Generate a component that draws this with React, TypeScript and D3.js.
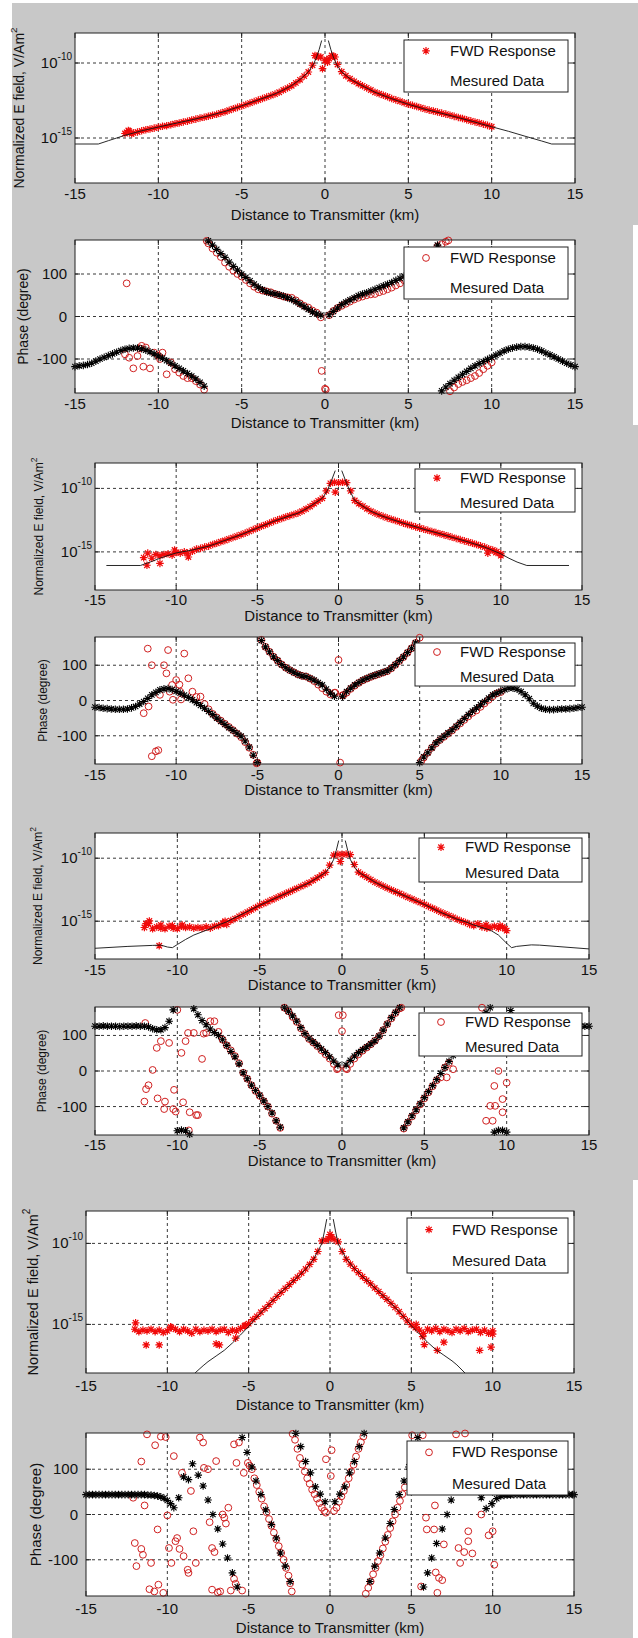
import * as d3 from "d3";

type Pt = [number, number];
type Box = { x0: number; x1: number; y0: number; y1: number };

const FONT = "'Liberation Sans', Arial, Helvetica, sans-serif";

// measurement stations (km)
const STATIONS = [
  -12, -11.75, -11.5, -11.25,
  -11, -10.75, -10.5, -10.25,
  -10, -9.75, -9.5, -9.25,
  -9, -8.75, -8.5, -8.25,
  -8, -7.75, -7.5, -7.25,
  -7, -6.75, -6.5, -6.25,
  -6, -5.75, -5.5, -5.25,
  -5, -4.75, -4.5, -4.25,
  -4, -3.75, -3.5, -3.25,
  -3, -2.75, -2.5, -2.25,
  -2, -1.75, -1.5, -1.25,
  -1, -0.75, -0.5, -0.25,
  0, 0.25, 0.5, 0.75,
  1, 1.25, 1.5, 1.75,
  2, 2.25, 2.5, 2.75,
  3, 3.25, 3.5, 3.75,
  4, 4.25, 4.5, 4.75,
  5, 5.25, 5.5, 5.75,
  6, 6.25, 6.5, 6.75,
  7, 7.25, 7.5, 7.75,
  8, 8.25, 8.5, 8.75,
  9, 9.25, 9.5, 9.75,
  10,
];

// model positions (km)
const MODEL_X = [
  -15, -14.75, -14.5, -14.25,
  -14, -13.75, -13.5, -13.25,
  -13, -12.75, -12.5, -12.25,
  -12, -11.75, -11.5, -11.25,
  -11, -10.75, -10.5, -10.25,
  -10, -9.75, -9.5, -9.25,
  -9, -8.75, -8.5, -8.25,
  -8, -7.75, -7.5, -7.25,
  -7, -6.75, -6.5, -6.25,
  -6, -5.75, -5.5, -5.25,
  -5, -4.75, -4.5, -4.25,
  -4, -3.75, -3.5, -3.25,
  -3, -2.75, -2.5, -2.25,
  -2, -1.75, -1.5, -1.25,
  -1, -0.75, -0.5, -0.25,
  0, 0.25, 0.5, 0.75,
  1, 1.25, 1.5, 1.75,
  2, 2.25, 2.5, 2.75,
  3, 3.25, 3.5, 3.75,
  4, 4.25, 4.5, 4.75,
  5, 5.25, 5.5, 5.75,
  6, 6.25, 6.5, 6.75,
  7, 7.25, 7.5, 7.75,
  8, 8.25, 8.5, 8.75,
  9, 9.25, 9.5, 9.75,
  10, 10.25, 10.5, 10.75,
  11, 11.25, 11.5, 11.75,
  12, 12.25, 12.5, 12.75,
  13, 13.25, 13.5, 13.75,
  14, 14.25, 14.5, 14.75,
  15,
];

const X_TICKS = [-15, -10, -5, 0, 5, 10, 15];
const E_TICKS = [-15, -10]; // powers of ten
const PHASE_TICKS = [-100, 0, 100];

// ---------- figure 1 ----------
// log10 of normalized E field, red asterisks
const e1Fwd = [
  -14.7, -14.55, -14.66, -14.6,
  -14.52, -14.45, -14.4, -14.34,
  -14.28, -14.22, -14.18, -14.12,
  -14.05, -14.0, -13.93, -13.88,
  -13.8, -13.74, -13.67, -13.62,
  -13.55, -13.48, -13.42, -13.33,
  -13.25, -13.15, -13.05, -12.96,
  -12.87, -12.77, -12.67, -12.57,
  -12.47, -12.37, -12.27, -12.17,
  -12.07, -11.95, -11.8, -11.67,
  -11.52, -11.33, -11.12, -10.87,
  -10.6, -10.15, -9.55, -9.6,
  -9.85, -9.7, -9.55, -10.1,
  -10.58, -10.85, -11.05, -11.22,
  -11.38, -11.52, -11.66, -11.8,
  -11.95, -12.05, -12.15, -12.25,
  -12.37, -12.46, -12.55, -12.65,
  -12.75, -12.82, -12.9, -12.98,
  -13.07, -13.14, -13.2, -13.27,
  -13.34, -13.41, -13.48, -13.56,
  -13.63, -13.7, -13.78, -13.86,
  -13.93, -14.0, -14.08, -14.16,
  -14.25,
];
const e1Extra: Pt[] = [
  [-11.8, -14.5], [-11.6, -14.72], [-11.9, -14.62], [-0.6, -9.5], [-0.4, -9.6],
  [-0.15, -10.38], [0.1, -9.8], [0.15, -9.95], [0.4, -9.5], [0.6, -9.6],
];
const e1Meas: Pt[] = [
  [-15, -15.4], [-13.6, -15.4], [-13, -15.18], [-12.5, -15.0], [-12, -14.82], [-11, -14.52],
  [-10, -14.27], [-9, -14.03], [-8, -13.79], [-7, -13.53], [-6, -13.23], [-5, -12.86],
  [-4, -12.46], [-3, -12.06], [-2.5, -11.8], [-2, -11.5], [-1.5, -11.1], [-1, -10.6],
  [-0.7, -10.1], [-0.5, -9.6], [-0.35, -9.1], [-0.2, -8.5], [0, NaN],
  [0.2, -8.5], [0.35, -9.1], [0.5, -9.6], [0.7, -10.1], [1, -10.6], [1.5, -11.05],
  [2, -11.38], [3, -11.95], [4, -12.38], [5, -12.75], [6, -13.08], [7, -13.35],
  [8, -13.64], [9, -13.94], [10, -14.25], [11, -14.55], [12, -14.88], [13, -15.2],
  [13.6, -15.4], [15, -15.4],
];
// phase (degree), red circles
const p1Fwd = [
  -89, -97, -122, -93,
  -69, -73, -122, -85,
  -92, -85, -136, -108,
  -124, -132, -140, -145,
  -145, -152, -160, -172,
  172, 160, 150, 140,
  127, 117, 108, 100,
  94, 86, 78, 70,
  64, 61, 59, 57,
  53, 50, 47, 45,
  44, 38, 31, 25,
  21, 14, 9, -2,
  -170, 3, 13, 20,
  25, 30, 35, 40,
  44, 47, 50, 52,
  53, 57, 60, 64,
  68, 73, 78, 85,
  88, 96, 104, 114,
  125, 138, 152, 165,
  170, 176, -176, -167,
  -159, -154, -150, -145,
  -140, -133, -124, -116,
  -108,
];
const p1Extra: Pt[] = [
  [-11.9, 78], [-11.1, -75], [-10.9, -118], [-9.9, -100], [-0.2, -128], [0.05, -172],
  [-7.1, 178], [7.4, 179],
];
// phase (degree), black asterisks
const p1Meas = [
  -118, -116, -115, -113,
  -110, -105, -100, -96,
  -92, -88, -84, -80,
  -77, -75, -74, -74,
  -76, -79, -83, -88,
  -93, -98, -104, -110,
  -116, -122, -128, -134,
  -140, -147, -155, -164,
  178, 168, 158, 148,
  139, 128, 118, 109,
  100, 92, 84, 76,
  69, 63, 58, 55,
  53, 51, 48, 44,
  40, 35, 29, 23,
  17, 11, 6, 3,
  NaN, 4, 12, 20,
  28, 34, 39, 44,
  49, 53, 56, 60,
  64, 68, 72, 76,
  80, 85, 90, 95,
  100, 106, 112, 119,
  127, 137, 150, 168,
  -175, -166, -158, -150,
  -143, -136, -129, -122,
  -116, -111, -106, -101,
  -96, -91, -86, -81,
  -77, -74, -72, -71,
  -71, -72, -74, -77,
  -81, -86, -90, -95,
  -100, -105, -110, -114,
  -118,
];

// ---------- figure 2 ----------
const e2Fwd = [
  -15.45, -15.1, -15.5, -15.2,
  -15.3, -15.2, -15.15, -15.25,
  -15.05, -15.1, -15.0, -15.4,
  -14.95, -14.78, -14.72, -14.62,
  -14.55, -14.42, -14.32, -14.2,
  -14.1, -13.98, -13.87, -13.76,
  -13.64, -13.52, -13.38, -13.25,
  -13.12, -12.98, -12.86, -12.73,
  -12.6, -12.48, -12.37, -12.25,
  -12.15, -12.05, -11.95, -11.8,
  -11.62, -11.43, -11.2, -10.98,
  -10.78, -10.2, -9.6, -9.52,
  -9.55, -9.52, -9.55, -10.2,
  -10.95, -11.2, -11.4, -11.6,
  -11.8, -11.95, -12.08, -12.2,
  -12.32, -12.43, -12.53, -12.63,
  -12.74, -12.84, -12.93, -13.03,
  -13.12, -13.21, -13.3, -13.39,
  -13.48, -13.57, -13.66, -13.75,
  -13.85, -13.94, -14.03, -14.13,
  -14.22, -14.32, -14.42, -14.52,
  -14.62, -14.75, -14.85, -14.98,
  -15.15,
];
const e2Extra: Pt[] = [
  [-11.8, -16.05], [-11.0, -15.9], [-10.1, -14.85], [-9.3, -15.1], [-0.2, -10.3],
  [9.2, -15.1], [9.7, -15.05], [10, -15.3],
];
const e2Meas: Pt[] = [
  [-14.3, -16.07], [-12.2, -16.07], [-11.5, -15.75], [-11, -15.5], [-10.5, -15.28], [-10, -15.08],
  [-9, -14.85], [-8, -14.55], [-7, -14.1], [-6, -13.64], [-5, -13.12], [-4, -12.6],
  [-3, -12.15], [-2.5, -11.95], [-2, -11.62], [-1.5, -11.2], [-1, -10.78], [-0.7, -10.2],
  [-0.5, -9.6], [-0.35, -9.1], [-0.2, -8.6], [0, NaN],
  [0.2, -8.6], [0.35, -9.1], [0.5, -9.6], [0.7, -10.2], [1, -10.95], [1.5, -11.4],
  [2, -11.8], [2.5, -12.08], [3, -12.32], [4, -12.74], [5, -13.12], [6, -13.48],
  [7, -13.85], [8, -14.22], [9, -14.62], [10, -15.15], [10.5, -15.5], [11, -15.8],
  [11.6, -16.07], [14.2, -16.07],
];
const p2Fwd = [
  -36, 147, 100, -144,
  16, 100, 143, 44,
  58, 25, 133, 63,
  25, 10, 11, -10,
  -25, -38, -48, -57,
  -66, -75, -84, -94,
  -104, -118, -134, -154,
  -176, 172, 152, 138,
  124, 113, 102, 93,
  86, 80, 74, 70,
  68, 62, 55, 45,
  35, 25, 17, 22,
  115, 15, 22, 33,
  42, 50, 57, 62,
  67, 71, 75, 79,
  83, 91, 101, 112,
  123, 135, 148, 163,
  178, -162, -148, -134,
  -122, -112, -103, -94,
  -85, -75, -65, -55,
  -45, -35, -28, -18,
  -8, 2, 12, 20,
  24,
];
const p2Extra: Pt[] = [
  [-11.5, -158], [-11.1, -141], [-11.7, -17], [-10.4, 25], [-10.2, 2], [-9.8, 45],
  [-9.7, 3], [-10.6, 77], [-0.2, 22], [0.1, -176], [0.3, 15], [5.1, -172], [-5.05, -178],
];
const p2Meas = [
  -19, -20, -22, -23,
  -24, -25, -25, -25,
  -24, -21, -17, -10,
  -3, 6, 16, 23,
  30, 33, 34, 31,
  26, 21, 15, 9,
  2, -6, -14, -22,
  -31, -40, -50, -59,
  -68, -77, -85, -93,
  -101, -115, -132, -155,
  -176, 170, 152, 138,
  124, 113, 102, 93,
  86, 80, 74, 70,
  68, 63, 58, 51,
  44, 32, 21, 12,
  NaN, 12, 25, 35,
  44, 51, 58, 63,
  68, 72, 76, 80,
  84, 92, 102, 113,
  124, 136, 148, 163,
  -176, -160, -148, -134,
  -120, -111, -101, -92,
  -83, -73, -62, -51,
  -40, -30, -21, -12,
  -3, 7, 16, 21,
  26, 31, 35, 35,
  32, 25, 16, 5,
  -8, -16, -22, -25,
  -26, -26, -25, -24,
  -24, -23, -22, -20,
  -19,
];

// ---------- figure 3 ----------
const e3Fwd = [
  -15.5, -15.2, -15.6, -15.45,
  -15.55, -15.6, -15.4, -15.55,
  -15.6, -15.4, -15.5, -15.45,
  -15.55, -15.5, -15.55, -15.45,
  -15.55, -15.4, -15.35, -15.15,
  -15.25, -14.95, -14.8, -14.62,
  -14.45, -14.28, -14.1, -13.92,
  -13.74, -13.6, -13.45, -13.3,
  -13.15, -13.0, -12.85, -12.7,
  -12.55, -12.4, -12.25, -12.1,
  -11.95, -11.75, -11.55, -11.35,
  -11.13, -10.55, -9.75, -9.7,
  -9.7, -9.68, -9.72, -10.5,
  -11.1, -11.3, -11.5, -11.7,
  -11.9, -12.06, -12.22, -12.37,
  -12.52, -12.66, -12.8, -12.95,
  -13.1, -13.24, -13.38, -13.52,
  -13.67, -13.82, -13.97, -14.12,
  -14.28, -14.42, -14.56, -14.7,
  -14.85, -14.98, -15.1, -15.25,
  -15.35, -15.2, -15.45, -15.3,
  -15.5, -15.4, -15.55, -15.45,
  -15.75,
];
const e3Extra: Pt[] = [
  [-11.9, -15.2], [-11.7, -14.98], [-11.1, -16.95], [-11, -15.3], [-10.3, -15.35],
  [-9.7, -15.3], [-7.2, -15.2], [-7.1, -15.0], [-0.1, -10.26], [8.8, -15.55],
  [9.6, -15.35], [9.9, -15.6],
];
const e3Meas: Pt[] = [
  [-15, -17.15], [-13, -17.0], [-11.5, -16.92], [-11, -16.9], [-10.6, -17.05], [-10.3, -17.1],
  [-10, -16.85], [-9.5, -16.45], [-9, -16.1], [-8, -15.6], [-7.5, -15.3], [-7, -15.05],
  [-6, -14.4], [-5, -13.74], [-4, -13.15], [-3, -12.55], [-2.5, -12.25], [-2, -11.95],
  [-1.5, -11.55], [-1, -11.13], [-0.7, -10.6], [-0.5, -10.08], [-0.35, -9.4], [-0.2, -8.6],
  [0, NaN],
  [0.2, -8.6], [0.35, -9.4], [0.5, -10.08], [0.7, -10.6], [1, -11.1], [1.5, -11.5],
  [2, -11.9], [2.5, -12.22], [3, -12.52], [4, -13.1], [5, -13.67], [6, -14.3],
  [7, -14.85], [7.5, -15.05], [8, -15.3], [9, -15.7], [9.5, -16.1], [10, -16.75],
  [10.3, -17.1], [10.6, -17.0], [11.5, -16.88], [12, -16.9], [13, -17.0], [15, -17.2],
];
const p3Fwd = [
  -86, -40, 3, 65,
  84, -86, 79, -107,
  172, 51, 84, -116,
  107, -124, 34, 107,
  140, 140, 110, 88,
  72, 58, 42, 22,
  -5, -22, -40, -56,
  -70, -85, -100, -120,
  -140, -160, 178, 168,
  152, 138, 120, 104,
  90, 80, 70, 58,
  47, 35, 20, 8,
  112, 8, 20, 35,
  47, 57, 66, 75,
  85, 98, 115, 132,
  148, 163, 176, -162,
  -145, -128, -111, -94,
  -77, -60, -43, -26,
  -18, 10, 23, 5,
  62, 80, 95, 106,
  125, 140, 178, -140,
  -98, -42, 0, -79,
  -33,
];
const p3Extra: Pt[] = [
  [-11.9, -51], [-11.2, -77], [-10.8, -107], [-10.1, -114], [-10.2, -53], [-9.65, -88],
  [-9.3, -167], [-8.85, -124], [-11.95, 135], [-9.35, 107], [-8.4, 105], [-0.2, 157],
  [0.05, 157], [9.3, -98], [9.15, -140], [9.75, -116], [6.36, -18], [-0.3, 5], [0.3, 5],
  [3.6, 178],
];
const p3Meas = [
  126, 126, 127, 126,
  126, 126, 125, 126,
  126, 126, 127, 126,
  126, 124, 119, 116,
  116, 122, 140, 172,
  -168, -166, -168, -178,
  175, 158, 142, 130,
  118, 108, 100, 88,
  72, 55, 40, 20,
  -5, -22, -40, -55,
  -68, -84, -100, -118,
  -140, -158, 178, 168,
  155, 140, 122, 105,
  92, 82, 72, 62,
  52, 40, 28, 17,
  NaN, 17, 30, 42,
  52, 60, 68, 76,
  85, 98, 115, 132,
  150, 165, 178, -160,
  -143, -126, -109, -92,
  -75, -58, -41, -24,
  -7, 10, 27, 44,
  62, 78, 92, 106,
  120, 135, 150, 165,
  178, -172, -167, -167,
  -172, 170, 140, 125,
  116, 116, 120, 124,
  126, 126, 126, 127,
  126, 126, 126, 126,
  125, 126, 126, 126,
  126,
];

// ---------- figure 4 ----------
const e4Fwd = [
  -15.3, -15.45, -15.35, -15.4,
  -15.3, -15.45, -15.35, -15.5,
  -15.4, -15.2, -15.3, -15.45,
  -15.3, -15.4, -15.55, -15.3,
  -15.45, -15.35, -15.4, -15.3,
  -15.45, -15.35, -15.3, -15.5,
  -15.35, -15.4, -15.25, -15.1,
  -14.95, -14.7, -14.5, -14.25,
  -14.02, -13.78, -13.52, -13.27,
  -13.02, -12.78, -12.55, -12.3,
  -12.08, -11.83, -11.58, -11.3,
  -10.98, -10.5, -9.85, -9.8,
  -9.45, -9.75, -9.9, -10.5,
  -10.98, -11.28, -11.55, -11.8,
  -12.05, -12.28, -12.5, -12.75,
  -12.98, -13.22, -13.45, -13.7,
  -13.95, -14.22, -14.5, -14.78,
  -15.02, -15.2, -15.35, -15.55,
  -15.3, -15.4, -15.25, -15.45,
  -15.3, -15.4, -15.5, -15.3,
  -15.4, -15.25, -15.45, -15.35,
  -15.3, -15.5, -15.35, -15.55,
  -15.4,
];
const e4Extra: Pt[] = [
  [-11.95, -14.9], [-11.3, -16.27], [-10.5, -16.27], [-9.8, -15.15], [-7.0, -16.2],
  [-6.8, -16.27], [-5.8, -15.85], [-5.2, -15.05], [5.3, -15.0], [5.7, -15.75],
  [5.8, -16.25], [6.6, -16.6], [7.0, -16.1], [9.2, -16.6], [9.9, -16.4], [10, -15.6],
  [0.1, -9.6], [-0.1, -9.7],
];
const e4Meas: Pt[] = [
  [-8.3, -18.0], [-7.8, -17.55], [-7.5, -17.3], [-7, -16.95], [-6.5, -16.6], [-6, -16.15],
  [-5.5, -15.65], [-5, -15.12], [-4.5, -14.55], [-4, -14.02], [-3.5, -13.5], [-3, -13.0],
  [-2.5, -12.55], [-2, -12.08], [-1.5, -11.6], [-1, -10.96], [-0.7, -10.4], [-0.5, -10.0],
  [-0.35, -9.3], [-0.2, -8.5], [0, NaN],
  [0.2, -8.5], [0.35, -9.3], [0.5, -10.0], [0.7, -10.4], [1, -10.95], [1.5, -11.55],
  [2, -12.05], [2.5, -12.5], [3, -12.98], [3.5, -13.45], [4, -13.95], [4.5, -14.5],
  [5, -15.08], [5.5, -15.6], [6, -16.1], [6.5, -16.55], [7, -16.9], [7.5, -17.25],
  [7.8, -17.5], [8.3, -18.0],
];
const p4Fwd: Pt[] = [
  [-12.1, 37], [-11.4, 20], [-12.0, -63], [-11.9, -114], [-11.6, -76], [-11.5, -89],
  [-11.6, 117], [-11.25, 177], [-11.1, -165], [-11.0, -107], [-10.8, -170], [-10.75, 153],
  [-10.55, -155], [-10.6, -33], [-10.4, 172], [-10.25, -173], [-10.1, 171], [-10.0, -2],
  [-9.9, -74], [-9.75, -107], [-9.6, 129], [-9.5, -59], [-9.4, -52], [-9.25, -76],
  [-9.1, 92], [-9.0, -92], [-8.75, -122], [-8.7, -129], [-8.55, 52], [-8.4, -37],
  [-8.25, -107], [-8.0, 170], [-7.8, 159], [-7.75, 103], [-7.5, 100], [-7.4, -17],
  [-7.25, -74], [-7.1, -83], [-7.25, -166], [-7.0, 118], [-6.9, -172], [-6.75, -170],
  [-6.6, 0], [-6.5, -7], [-6.4, -20], [-6.25, 15], [-6.1, -168], [-5.9, 155],
  [-5.9, -142], [-5.8, -153], [-5.75, 114], [-5.6, 159], [-5.4, -168], [-5.3, 92],
  [-5.05, 114], [-4.95, 108],
  [-4.8, 100], [-4.65, 80], [-4.5, 65], [-4.35, 50], [-4.2, 35], [-4.05, 18],
  [-3.9, 5], [-3.75, -10], [-3.6, -25], [-3.45, -40], [-3.3, -55], [-3.15, -70],
  [-3.0, -85], [-2.85, -100], [-2.7, -118], [-2.55, -135], [-2.45, -152], [-2.35, -170],
  [-2.3, 178], [-2.15, 165], [-2.0, 145], [-1.85, 125], [-1.7, 110], [-1.55, 95],
  [-1.4, 80], [-1.25, 68], [-1.1, 55], [-0.95, 45], [-0.8, 35], [-0.65, 25],
  [-0.5, 15], [-0.35, 8], [-0.25, 4], [-0.25, 122], [0.05, 85], [0.1, 142],
  [0.25, 8], [0.4, 15], [0.55, 28], [0.7, 40], [0.85, 52], [1.0, 65],
  [1.15, 80], [1.3, 95], [1.45, 110], [1.6, 128], [1.75, 145], [1.9, 160],
  [2.05, 172], [2.2, -175], [2.35, -162], [2.5, -148], [2.65, -132], [2.8, -118],
  [2.95, -103], [3.1, -90], [3.25, -75], [3.4, -60], [3.55, -45], [3.7, -30],
  [3.85, -15], [4.0, 0], [4.15, 15], [4.3, 30], [4.45, 45], [4.6, 60],
  [5.05, 175], [5.6, -159], [5.9, -7], [5.95, -33], [6.4, -33], [6.45, 20],
  [6.5, -128], [6.7, -140], [6.6, -173], [7.0, -66], [7.9, -74], [8.0, -107],
  [8.25, -83], [8.5, -59], [8.5, -37], [8.75, -86], [9.3, 0], [9.75, -46],
  [10.0, -37], [10.1, -111], [7.75, 177], [8.3, 179], [5.7, 175], [6.9, -145],
];
const p4Meas: Pt[] = [
  [-15, 44], [-14.8, 44], [-14.6, 44], [-14.4, 44], [-14.2, 44], [-14, 44],
  [-13.8, 44], [-13.6, 44], [-13.4, 44], [-13.2, 44], [-13, 44], [-12.8, 44],
  [-12.6, 44], [-12.4, 44], [-12.2, 44], [-12, 44], [-11.8, 44], [-11.6, 44],
  [-11.4, 44], [-11.2, 43], [-11, 43], [-10.8, 42], [-10.6, 41], [-10.4, 39],
  [-10.2, 36], [-10, 31], [-9.8, 24], [-9.6, 15], [-9.3, 37], [-9.0, 83],
  [-8.7, 77], [-8.45, 112], [-8.1, 87], [-7.8, 63], [-7.5, 32], [-7.2, 0],
  [-6.9, -32], [-6.6, -65], [-6.3, -96], [-6.0, -129], [-5.7, -160], [-5.4, 170],
  [-5.1, 137], [-4.8, 105], [-4.55, 74], [-4.25, 44], [-3.95, 10], [-3.6, -22],
  [-3.3, -52], [-3.05, -85], [-2.75, -114], [-2.45, -148], [-2.1, 179], [-1.8, 150],
  [-1.5, 117], [-1.2, 92], [-0.9, 61], [-0.6, 45], [-0.3, 28],
  [0.3, 28], [0.6, 45], [0.9, 61], [1.2, 92], [1.5, 117], [1.8, 150],
  [2.1, 179], [2.45, -148], [2.75, -114], [3.05, -85], [3.4, -52], [3.7, -20],
  [3.95, 11], [4.25, 44], [4.55, 74], [4.85, 105], [5.1, 137], [5.4, 170],
  [5.75, -160], [6.0, -129], [6.25, -96], [6.55, -64], [6.9, -32], [7.2, 0],
  [7.45, 32], [7.8, 63], [8.1, 87], [8.45, 112], [8.7, 77], [9.0, 83],
  [9.3, 37], [9.6, 13], [9.95, 24], [10.25, 35], [10.5, 41], [10.7, 42],
  [10.9, 43], [11.1, 43], [11.3, 44], [11.5, 44], [11.7, 44], [11.9, 44],
  [12.1, 44], [12.3, 44], [12.5, 44], [12.7, 44], [12.9, 44], [13.1, 44],
  [13.3, 44], [13.5, 44], [13.7, 44], [13.9, 44], [14.1, 44], [14.3, 44],
  [14.5, 44], [14.7, 44], [14.9, 44], [15, 44],
];

// ---------- layout ----------
type PanelCfg = {
  kind: "E" | "P";
  box: Box;
  leg: Box;
  legText: number;
  labX: number;
  vfont: number;
  tickDy: number;
  xlabDy: number;
  fwd: Pt[];
  meas: Pt[];
};

const zip = (xs: number[], ys: number[]): Pt[] =>
  xs.map((x, i) => [x, ys[i]] as Pt).filter((d) => !isNaN(d[1]));

const PANELS: PanelCfg[] = [
  { kind: "E", box: { x0: 75, x1: 575, y0: 33, y1: 183 }, leg: { x0: 404, x1: 568, y0: 40, y1: 92 }, legText: 46,
    labX: 19, vfont: 14, tickDy: 15.5, xlabDy: 37, fwd: zip(STATIONS, e1Fwd).concat(e1Extra), meas: e1Meas },
  { kind: "P", box: { x0: 75, x1: 575, y0: 240, y1: 393 }, leg: { x0: 404, x1: 568, y0: 247, y1: 299 }, legText: 46,
    labX: 23, vfont: 14, tickDy: 15.5, xlabDy: 35, fwd: zip(STATIONS, p1Fwd).concat(p1Extra), meas: zip(MODEL_X, p1Meas) },
  { kind: "E", box: { x0: 95, x1: 582, y0: 463, y1: 590 }, leg: { x0: 415, x1: 575, y0: 469, y1: 512 }, legText: 45,
    labX: 39, vfont: 12, tickDy: 15, xlabDy: 30.5, fwd: zip(STATIONS, e2Fwd).concat(e2Extra), meas: e2Meas },
  { kind: "P", box: { x0: 95, x1: 582, y0: 637, y1: 764 }, leg: { x0: 415, x1: 575, y0: 643, y1: 686 }, legText: 45,
    labX: 43, vfont: 12, tickDy: 15.5, xlabDy: 31, fwd: zip(STATIONS, p2Fwd).concat(p2Extra), meas: zip(MODEL_X, p2Meas) },
  { kind: "E", box: { x0: 95, x1: 589, y0: 833, y1: 959 }, leg: { x0: 419, x1: 582, y0: 838, y1: 882 }, legText: 46,
    labX: 38, vfont: 12, tickDy: 15.5, xlabDy: 31, fwd: zip(STATIONS, e3Fwd).concat(e3Extra), meas: e3Meas },
  { kind: "P", box: { x0: 95, x1: 589, y0: 1007, y1: 1135 }, leg: { x0: 419, x1: 582, y0: 1013, y1: 1056 }, legText: 46,
    labX: 42, vfont: 12, tickDy: 15, xlabDy: 31, fwd: zip(STATIONS, p3Fwd).concat(p3Extra), meas: zip(MODEL_X, p3Meas) },
  { kind: "E", box: { x0: 86, x1: 574, y0: 1211, y1: 1373 }, leg: { x0: 407, x1: 568, y0: 1218, y1: 1273 }, legText: 45,
    labX: 33, vfont: 14.5, tickDy: 17.5, xlabDy: 37, fwd: zip(STATIONS, e4Fwd).concat(e4Extra), meas: e4Meas },
  { kind: "P", box: { x0: 86, x1: 574, y0: 1433, y1: 1596 }, leg: { x0: 407, x1: 568, y0: 1441, y1: 1495 }, legText: 45,
    labX: 35, vfont: 15, tickDy: 17.5, xlabDy: 37, fwd: p4Fwd, meas: p4Meas },
];

const BG = [
  [12, 3, 626, 222],
  [12, 225, 621, 200],
  [12, 425, 626, 755],
  [12, 1180, 621, 458],
];

const starPath = (s: number) => {
  const k = s * 0.72;
  return `M${-s},0H${s}M0,${-s}V${s}M${-k},${-k}L${k},${k}M${-k},${k}L${k},${-k}`;
};
const STAR = starPath(3.8);
const RED = "#f00a0a";
const CIRCLE_RED = "#d02020";
const GRID = "#222";

function Panel({ cfg, id }: { cfg: PanelCfg; id: number }) {
  const { box, leg } = cfg;
  const isE = cfg.kind === "E";
  const x = d3.scaleLinear().domain([-15, 15]).range([box.x0, box.x1]);
  const yLog = d3.scaleLog().domain([1e-18, 1e-8]).range([box.y1, box.y0]);
  const yLin = d3.scaleLinear().domain([-180, 180]).range([box.y1, box.y0]);
  const yv = (v: number) => (isE ? yLog(Math.pow(10, v)) : yLin(v));
  const yTicks = isE ? E_TICKS : PHASE_TICKS;
  const line = d3
    .line<Pt>()
    .defined((d) => !isNaN(d[1]))
    .x((d) => x(d[0]))
    .y((d) => yv(d[1]));
  const w = box.x1 - box.x0;
  const h = box.y1 - box.y0;
  const cy = (box.y0 + box.y1) / 2;
  const lh = leg.y1 - leg.y0;
  const l1 = leg.y0 + lh * 0.21;
  const l2 = leg.y0 + lh * 0.79;
  const clipId = `clip${id}`;

  return (
    <g>
      <defs>
        <clipPath id={clipId}>
          <rect x={box.x0} y={box.y0} width={w} height={h} />
        </clipPath>
      </defs>
      <rect x={box.x0} y={box.y0} width={w} height={h} fill="#fff" />
      {X_TICKS.slice(1, -1).map((t) => (
        <line key={`gx${t}`} x1={x(t)} x2={x(t)} y1={box.y0} y2={box.y1} stroke={GRID} strokeWidth={0.9} strokeDasharray="3,3" />
      ))}
      {yTicks.map((t) => (
        <line key={`gy${t}`} x1={box.x0} x2={box.x1} y1={yv(t)} y2={yv(t)} stroke={GRID} strokeWidth={0.9} strokeDasharray="3,3" />
      ))}
      {cfg.fwd.map((d, i) =>
        isE ? (
          <path key={`f${i}`} d={STAR} transform={`translate(${x(d[0])},${yv(d[1])})`} stroke={RED} strokeWidth={1.2} fill="none" />
        ) : (
          <circle key={`f${i}`} cx={x(d[0])} cy={yv(d[1])} r={3.4} stroke={CIRCLE_RED} strokeWidth={1} fill="none" />
        )
      )}
      {isE ? (
        <path d={line(cfg.meas) || ""} clipPath={`url(#${clipId})`} stroke="#111" strokeWidth={0.9} fill="none" />
      ) : (
        cfg.meas.map((d, i) => (
          <path key={`m${i}`} d={STAR} transform={`translate(${x(d[0])},${yv(d[1])})`} stroke="#000" strokeWidth={1.1} fill="none" />
        ))
      )}
      <rect x={box.x0} y={box.y0} width={w} height={h} fill="none" stroke="#222" strokeWidth={1} />
      {X_TICKS.map((t) => (
        <g key={`tx${t}`} stroke="#222" strokeWidth={1}>
          <line x1={x(t)} x2={x(t)} y1={box.y1} y2={box.y1 - 5} />
          <line x1={x(t)} x2={x(t)} y1={box.y0} y2={box.y0 + 5} />
        </g>
      ))}
      {yTicks.map((t) => (
        <g key={`ty${t}`} stroke="#222" strokeWidth={1}>
          <line x1={box.x0} x2={box.x0 + 5} y1={yv(t)} y2={yv(t)} />
          <line x1={box.x1} x2={box.x1 - 5} y1={yv(t)} y2={yv(t)} />
        </g>
      ))}
      {X_TICKS.map((t) => (
        <text key={`lx${t}`} x={x(t)} y={box.y1 + cfg.tickDy} textAnchor="middle" fontSize={15} fill="#111">
          {t}
        </text>
      ))}
      {yTicks.map((t) =>
        isE ? (
          <text key={`ly${t}`} x={box.x0 - 3} y={yv(t) + 5} textAnchor="end" fontSize={15} fill="#111">
            10
            <tspan fontSize={10} dy={-8}>
              {t}
            </tspan>
          </text>
        ) : (
          <text key={`ly${t}`} x={box.x0 - 8} y={yv(t) + 5} textAnchor="end" fontSize={15} fill="#111">
            {t}
          </text>
        )
      )}
      <text x={(box.x0 + box.x1) / 2} y={box.y1 + cfg.xlabDy} textAnchor="middle" fontSize={15} fill="#111">
        Distance to Transmitter (km)
      </text>
      <text transform={`translate(${cfg.labX},${cy}) rotate(-90)`} textAnchor="middle" dominantBaseline="central" fontSize={cfg.vfont} fill="#111">
        {isE ? (
          <>
            Normalized E field, V/Am
            <tspan fontSize={cfg.vfont * 0.7} dy={-cfg.vfont * 0.45}>2</tspan>
          </>
        ) : (
          "Phase (degree)"
        )}
      </text>
      <rect x={leg.x0} y={leg.y0} width={leg.x1 - leg.x0} height={lh} fill="#fff" stroke="#222" strokeWidth={1} />
      {isE ? (
        <path d={STAR} transform={`translate(${leg.x0 + 22},${l1})`} stroke={RED} strokeWidth={1.2} fill="none" />
      ) : (
        <circle cx={leg.x0 + 22} cy={l1} r={3.4} stroke={CIRCLE_RED} strokeWidth={1} fill="none" />
      )}
      <text x={leg.x0 + cfg.legText} y={l1 + 5} fontSize={15} fill="#111">
        FWD Response
      </text>
      <text x={leg.x0 + cfg.legText} y={l2 + 5} fontSize={15} fill="#111">
        Mesured Data
      </text>
    </g>
  );
}

export default function App() {
  return (
    <svg
      width={638}
      height={1638}
      style={{ position: "absolute", left: 0, top: 0, display: "block" }}
      fontFamily={FONT}
    >
      <rect width={638} height={1638} fill="#fff" />
      {BG.map((b, i) => (
        <rect key={i} x={b[0]} y={b[1]} width={b[2]} height={b[3]} fill="#c8c8c8" />
      ))}
      {PANELS.map((p, i) => (
        <Panel key={i} cfg={p} id={i} />
      ))}
    </svg>
  );
}
